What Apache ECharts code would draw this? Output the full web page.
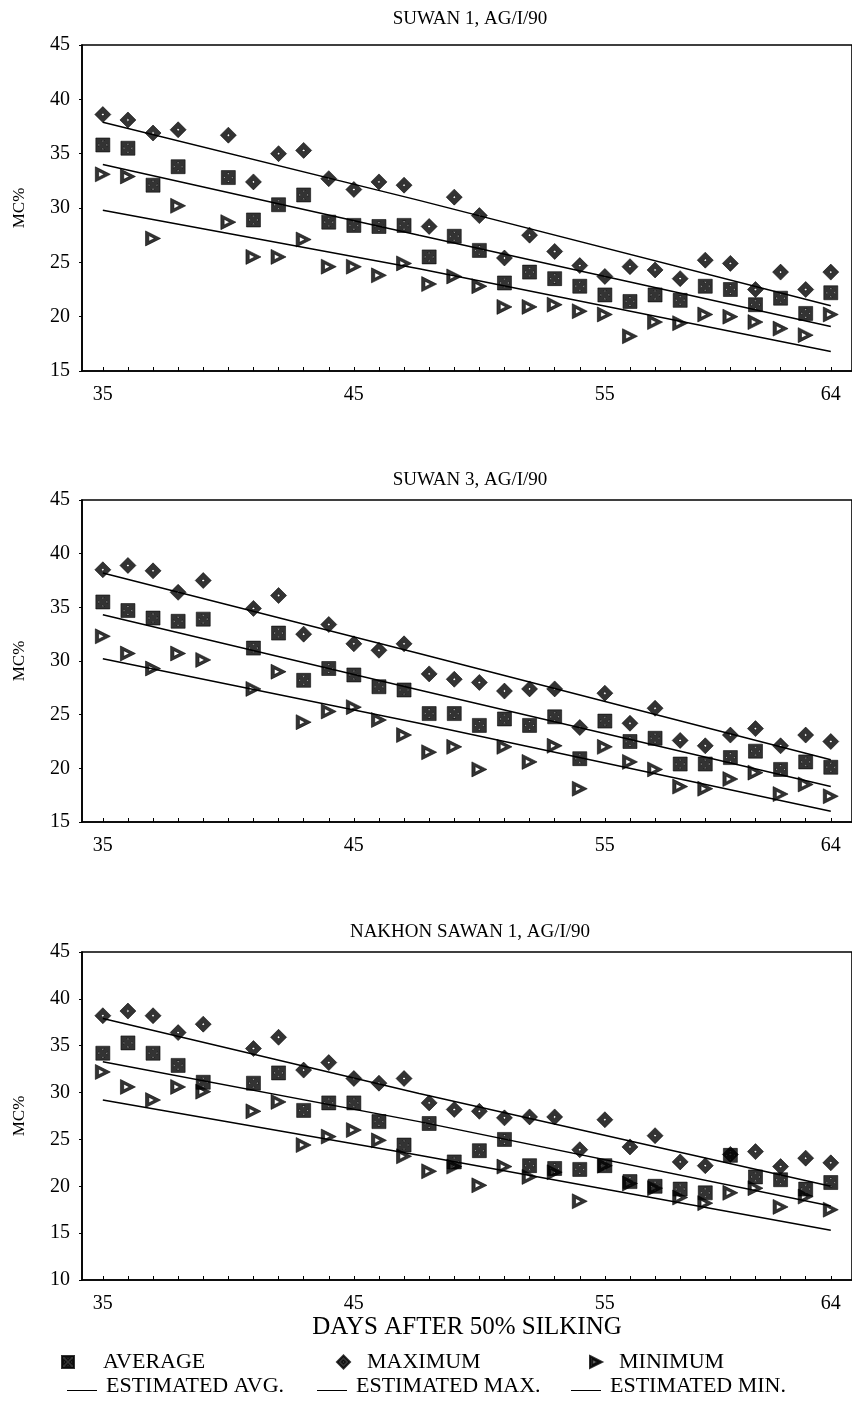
<!DOCTYPE html>
<html>
<head>
<meta charset="utf-8">
<script src="https://cdn.jsdelivr.net/npm/echarts@6/dist/echarts.min.js"></script>
<style>
html,body{margin:0;padding:0;background:#fff;}
#main{width:852px;height:1404px;}
</style>
</head>
<body>
<div id="main"></div>
<script>
// days after 50% silking, one value per day (null = no reading)
var days = [35,36,37,38,39,40,41,42,43,44,45,46,47,48,49,50,51,52,53,54,55,56,57,58,59,60,61,62,63,64];
var dayTicks = days;
var dayLabels = [35,45,55,64];
var titles = ['SUWAN 1, AG/I/90', 'SUWAN 3, AG/I/90', 'NAKHON SAWAN 1, AG/I/90'];
var yMins = [15, 15, 10];

// SUWAN 1
var avg1 = [35.8,35.5,32.1,33.8,null,32.8,28.9,30.3,31.2,28.7,28.4,28.3,28.4,25.5,27.4,26.1,23.1,24.1,23.5,22.8,22.0,21.4,22.0,21.5,22.8,22.5,21.1,21.7,20.3,22.2];
var max1 = [38.6,38.1,36.9,37.2,null,36.7,32.4,35.0,35.3,32.7,31.7,32.4,32.1,28.3,31.0,29.3,25.4,27.5,26.0,24.7,23.7,24.6,24.3,23.5,25.2,24.9,22.5,24.1,22.5,24.1];
var min1 = [33.1,32.9,27.2,30.2,null,28.7,25.5,25.5,27.1,24.6,24.6,23.8,24.9,23.0,23.7,22.8,20.9,20.9,21.1,20.5,20.2,18.2,19.5,19.4,20.2,20.0,19.5,18.9,18.3,20.2];
// SUWAN 3
var avg2 = [35.5,34.7,34.0,33.7,33.9,null,31.2,32.6,28.2,29.3,28.7,27.6,27.3,25.1,25.1,24.0,24.6,24.0,24.8,20.9,24.4,22.5,22.8,20.4,20.4,21.0,21.6,19.9,20.6,20.1];
var max2 = [38.5,38.9,38.4,36.4,37.5,null,34.9,36.1,32.5,33.4,31.6,31.0,31.6,28.8,28.3,28.0,27.2,27.4,27.4,23.8,27.0,24.2,25.6,22.6,22.1,23.1,23.7,22.1,23.1,22.5];
var min2 = [32.3,30.7,29.3,30.7,30.1,null,27.4,29.0,24.3,25.3,25.7,24.5,23.1,21.5,22.0,19.9,22.0,20.6,22.1,18.1,22.0,20.6,19.9,18.3,18.1,19.0,19.6,17.6,18.5,17.4];
// NAKHON SAWAN 1
var avg3 = [34.2,35.3,34.2,32.9,31.1,null,31.0,32.1,28.1,28.9,28.9,26.9,24.4,26.7,22.6,23.8,25.0,22.2,21.9,21.8,22.2,20.5,20.0,19.7,19.3,23.3,21.0,20.7,19.7,20.4];
var max3 = [38.2,38.7,38.2,36.4,37.3,null,34.7,35.9,32.4,33.2,31.5,31.0,31.5,28.9,28.2,28.0,27.3,27.4,27.4,23.9,27.1,24.2,25.4,22.6,22.2,23.4,23.7,22.1,23.0,22.5];
var min3 = [32.2,30.6,29.2,30.6,30.1,null,28.0,29.0,24.4,25.3,26.0,24.9,23.2,21.6,22.1,20.1,22.1,21.0,21.5,18.4,22.2,20.3,19.8,18.8,18.2,19.3,19.8,17.8,18.9,17.5];

// estimated (fitted) lines, read at these days
var estDays = [35, 47.6, 64];
var estAvg1 = [34.0, 27.5, 19.1];
var estMax1 = [37.9, 30.7, 21.0];
var estMin1 = [29.8, 24.4, 16.8];
var estAvg2 = [34.3, 27.3, 18.3];
var estMax2 = [38.2, 30.7, 20.8];
var estMin2 = [30.2, 24.2, 16.0];
var estAvg3 = [33.3, 26.9, 17.9];
var estMax3 = [37.9, 29.9, 20.0];
var estMin3 = [29.2, 23.3, 15.3];

var panels = [
  {avg: avg1, max: max1, min: min1, eAvg: estAvg1, eMax: estMax1, eMin: estMin1},
  {avg: avg2, max: max2, min: min2, eAvg: estAvg2, eMax: estMax2, eMin: estMin2},
  {avg: avg3, max: max3, min: min3, eAvg: estAvg3, eMax: estMax3, eMin: estMin3}
];

var FONT = '"Liberation Serif", "DejaVu Serif", serif';
// heavy black marks with small holes, like the printed symbols
var squareSym = 'path://M0,0L10,0L10,10L0,10Z M4,1.8L5,2.9L6,1.8Z M8.2,4L7.1,5L8.2,6Z M6,8.2L5,7.1L4,8.2Z M1.8,6L2.9,5L1.8,4Z';
var diamondSym = 'path://M5,0L10,5L5,10L0,5Z M5,4.1L4.1,5L5,5.9L5.9,5Z';
var triSym = 'path://M0,0L10,5L0,10Z M2.2,3.1L2.2,6.9L5.9,5Z';
var lineIcon = 'path://M0,0L0.01,0L0.01,0.01Z M0,9L30,9L30,10L0,10Z';
var markStyle = {color: '#000', borderColor: '#000', borderWidth: 0.7};

function pairs(xs, vals) {
  var out = [];
  for (var i = 0; i < xs.length; i++) {
    if (vals[i] != null) out.push([xs[i], vals[i]]);
  }
  return out;
}

var gridPos = [{top: 45, height: 326}, {top: 500, height: 322}, {top: 952, height: 328}];
var grids = [], xAxes = [], yAxes = [], series = [], graphics = [];

for (var p = 0; p < 3; p++) {
  grids.push({
    left: 82, right: -3, top: gridPos[p].top, height: gridPos[p].height,
    show: true, borderColor: '#000', borderWidth: 1.6, backgroundColor: 'transparent'
  });
  xAxes.push({
    gridIndex: p, type: 'value', min: 34.17, max: 64.845,
    name: p == 2 ? 'DAYS AFTER 50% SILKING' : '',
    nameLocation: 'middle', nameGap: 30,
    nameTextStyle: {color: '#000', fontFamily: FONT, fontSize: 25},
    axisLine: {show: true, onZero: false, lineStyle: {color: '#000', width: 1.6}},
    axisTick: {show: true, inside: true, length: 4, customValues: dayTicks, lineStyle: {color: '#000'}},
    axisLabel: {customValues: dayLabels, color: '#000', fontFamily: FONT, fontSize: 20, margin: 14},
    splitLine: {show: false}
  });
  yAxes.push({
    gridIndex: p, type: 'value', min: yMins[p], max: 45, interval: 5,
    name: 'MC%', nameLocation: 'middle', nameRotate: 90, nameGap: 54,
    nameTextStyle: {color: '#000', fontFamily: FONT, fontSize: 17},
    axisLine: {show: true, lineStyle: {color: '#000', width: 1.6}},
    axisTick: {show: true, length: 3, lineStyle: {color: '#000'}},
    axisLabel: {color: '#000', fontFamily: FONT, fontSize: 20, margin: 12},
    splitLine: {show: false}
  });
  graphics.push({
    type: 'text', x: 470, y: gridPos[p].top - (p == 0 ? 26 : 20),
    style: {text: titles[p], fill: '#000', font: '19px ' + FONT, textAlign: 'center', textVerticalAlign: 'middle'}
  });

  var d = panels[p];
  series.push(
    {name: 'AVERAGE', type: 'scatter', xAxisIndex: p, yAxisIndex: p, symbol: squareSym, symbolSize: 14,
      itemStyle: markStyle, data: pairs(days, d.avg)},
    {name: 'MAXIMUM', type: 'scatter', xAxisIndex: p, yAxisIndex: p, symbol: diamondSym, symbolSize: 16,
      itemStyle: markStyle, data: pairs(days, d.max)},
    {name: 'MINIMUM', type: 'scatter', xAxisIndex: p, yAxisIndex: p, symbol: triSym, symbolSize: 15,
      itemStyle: markStyle, data: pairs(days, d.min)},
    {name: 'ESTIMATED AVG.', type: 'line', xAxisIndex: p, yAxisIndex: p, symbol: 'none',
      itemStyle: {color: '#000'}, lineStyle: {color: '#000', width: 1.5}, data: pairs(estDays, d.eAvg)},
    {name: 'ESTIMATED MAX.', type: 'line', xAxisIndex: p, yAxisIndex: p, symbol: 'none',
      itemStyle: {color: '#000'}, lineStyle: {color: '#000', width: 1.5}, data: pairs(estDays, d.eMax)},
    {name: 'ESTIMATED MIN.', type: 'line', xAxisIndex: p, yAxisIndex: p, symbol: 'none',
      itemStyle: {color: '#000'}, lineStyle: {color: '#000', width: 1.5}, data: pairs(estDays, d.eMin)}
  );
}

function legendItem(name, left, top, pad, icon, w, h) {
  var l = {
    data: [name], left: left, top: top, selectedMode: false,
    itemWidth: w, itemHeight: h, itemGap: 0,
    textStyle: {color: '#000', fontFamily: FONT, fontSize: 22, padding: [0, 0, 0, pad]}
  };
  if (icon) l.icon = icon;
  return l;
}

var legends = [
  legendItem('AVERAGE', 56, 1346, 24, null, 12, 12),
  legendItem('MAXIMUM', 331, 1346, 12, null, 13, 14),
  legendItem('MINIMUM', 584, 1346, 12, null, 12, 12),
  legendItem('ESTIMATED AVG.', 62, 1370, 4, lineIcon, 30, 12),
  legendItem('ESTIMATED MAX.', 312, 1370, 4, lineIcon, 30, 12),
  legendItem('ESTIMATED MIN.', 566, 1370, 4, lineIcon, 30, 12)
];

var myChart = echarts.init(document.getElementById('main'));
var option = {
  animation: false,
  backgroundColor: '#fff',
  grid: grids,
  xAxis: xAxes,
  yAxis: yAxes,
  legend: legends,
  graphic: graphics,
  series: series
};
myChart.setOption(option);
</script>
</body>
</html>
